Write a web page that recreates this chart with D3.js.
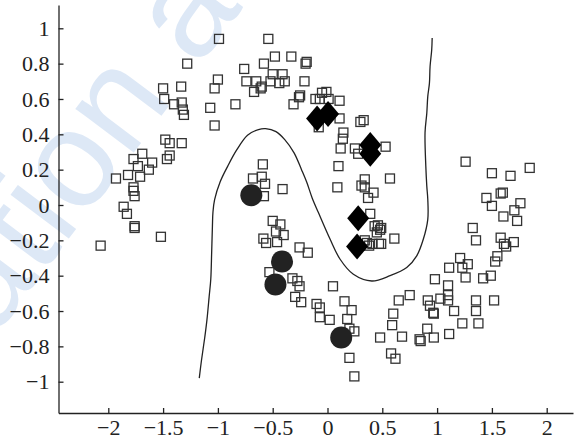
<!DOCTYPE html>
<html lang="en">
  <head>
    <meta charset="UTF-8" />
    <title>Two moons - decision boundary</title>
    <script src="https://d3js.org/d3.v7.min.js"></script>
    <style>
      body { margin: 0; background: #fff; }
      svg { display: block; }
      .tick text { font-family: "Liberation Serif", "Times New Roman", serif; }
    </style>
  </head>
  <body>
    <svg width="579" height="441"></svg>

    <script>
      // unlabeled points (open squares)
      var unlabeled = [
        [-2.07,-0.23],[-1.93,0.15],[-1.86,-0.01],[-1.83,-0.05],[-1.82,0.17],[-1.77,0.10],[-1.77,0.08],[-1.76,0.05],
        [-1.76,-0.12],[-1.76,-0.13],[-1.77,0.26],[-1.73,0.22],[-1.71,0.16],[-1.69,0.29],[-1.63,0.20],[-1.60,0.24],
        [-1.52,-0.18],[-1.48,0.37],[-1.44,0.35],[-1.465,0.26],[-1.44,0.28],[-1.33,0.35],[-1.50,0.66],[-1.49,0.60],
        [-1.40,0.57],[-1.335,0.67],[-1.33,0.58],[-1.32,0.54],[-1.31,0.51],[-1.28,0.80],
        [-1.07,0.55],[-1.03,0.45],[-1.03,0.66],[-1.00,0.71],[-0.99,0.94],[-0.84,0.57],[-0.76,0.77],[-0.74,0.70],
        [-0.67,0.64],[-0.65,0.70],[-0.60,0.67],[-0.61,0.66],[-0.58,0.80],[-0.54,0.94],[-0.52,0.70],[-0.50,0.74],
        [-0.48,0.84],[-0.44,0.69],[-0.41,0.74],[-0.39,0.70],[-0.33,0.84],[-0.31,0.57],[-0.26,0.61],[-0.25,0.62],
        [-0.21,0.70],[-0.20,0.80],[-0.19,0.81],[-0.11,0.60],[-0.08,0.44],[-0.07,0.60],[-0.05,0.635],[-0.01,0.64],
        [0.01,0.60],[0.11,0.59],[0.11,0.49],[0.145,0.41],[0.14,0.375],[0.12,0.32],[0.10,0.22],[0.09,0.10],
        [0.30,0.47],[0.33,0.48],[0.25,0.32],[0.28,0.29],[0.53,0.33],[0.57,0.15],[0.34,0.145],[0.31,0.11],
        [0.34,0.10],[0.42,0.07],[0.37,0.04],[0.39,-0.05],[0.43,-0.12],[0.48,-0.14],[0.46,-0.115],[0.49,-0.13],
        [0.45,-0.155],[0.61,-0.19],[0.34,-0.20],[0.36,-0.215],[0.41,-0.22],[0.47,-0.22],[0.49,-0.22],[0.38,-0.23],
        [-0.59,0.23],[-0.68,0.15],[-0.60,0.16],[-0.57,0.12],[-0.58,0.05],[-0.41,0.09],[-0.50,-0.09],[-0.43,-0.11],
        [-0.47,-0.15],[-0.40,-0.17],[-0.585,-0.19],[-0.56,-0.215],[-0.46,-0.21],[-0.255,-0.24],[-0.18,-0.27],
        [-0.53,-0.38],[-0.32,-0.415],[-0.275,-0.43],[-0.255,-0.46],[-0.295,-0.52],[-0.24,-0.55],[-0.10,-0.56],
        [-0.07,-0.58],[-0.07,-0.635],[0.02,-0.65],[0.05,-0.46],[0.155,-0.545],[0.22,-0.595],[0.18,-0.645],
        [0.20,-0.70],[0.245,-0.715],[0.20,-0.865],[0.245,-0.97],[0.48,-0.75],[0.58,-0.84],[0.62,-0.87],
        [0.60,-0.615],[0.65,-0.54],[0.59,-0.68],[0.68,-0.745],[0.75,-0.51],[0.84,-0.76],[0.85,-0.77],[0.91,-0.70],
        [0.915,-0.54],[0.935,-0.57],[0.965,-0.61],[0.97,-0.615],[0.97,-0.75],[0.98,-0.42],[1.03,-0.53],[1.11,-0.355],
        [1.10,-0.455],[1.10,-0.51],[1.10,-0.54],[1.11,-0.73],[1.155,-0.60],[1.21,-0.30],[1.23,-0.67],[1.23,-0.355],
        [1.26,-0.41],[1.28,-0.335],[1.26,0.245],[1.325,-0.13],[1.355,-0.20],[1.355,-0.54],[1.355,-0.60],[1.377,-0.67],
        [1.42,-0.415],[1.45,0.04],[1.50,0.18],[1.50,-0.005],[1.49,-0.40],[1.53,-0.32],[1.55,-0.29],[1.52,-0.54],
        [1.58,0.065],[1.60,0.07],[1.605,-0.065],[1.58,-0.185],[1.61,-0.22],[1.63,-0.235],[1.67,0.165],[1.70,-0.21],
        [1.705,-0.03],[1.73,-0.09],[1.76,0.01],[1.845,0.21]
      ];

      // labeled class 1 (filled diamonds)
      var classOne = [[-0.095,0.49],[0.005,0.515],[0.39,0.34],[0.39,0.29],[0.28,-0.075],[0.27,-0.235]];

      // labeled class 2 (filled circles)
      var classTwo = [[-0.695,0.055],[-0.415,-0.32],[-0.475,-0.45],[0.125,-0.75]];

      // decision boundary
      var boundary = [
        [-1.17,-0.98],[-1.15,-0.88],[-1.12,-0.75],[-1.10,-0.65],[-1.08,-0.52],[-1.065,-0.42],[-1.057,-0.27],
        [-1.05,-0.12],[-1.045,-0.04],[-1.03,0.03],[-0.98,0.13],[-0.91,0.22],[-0.83,0.31],[-0.73,0.395],
        [-0.63,0.427],[-0.565,0.432],[-0.47,0.415],[-0.39,0.37],[-0.305,0.295],[-0.237,0.20],[-0.19,0.13],
        [-0.14,0.04],[-0.083,-0.043],[0.024,-0.194],[0.115,-0.307],[0.236,-0.392],[0.404,-0.43],[0.571,-0.40],
        [0.723,-0.354],[0.814,-0.288],[0.874,-0.194],[0.915,-0.081],[0.915,0.032],[0.906,0.107],[0.897,0.22],
        [0.89,0.41],[0.906,0.52],[0.915,0.615],[0.93,0.69],[0.936,0.785],[0.951,0.88],[0.955,0.945]
      ];

      var xTicks = [-2, -1.5, -1, -0.5, 0, 0.5, 1, 1.5, 2];
      var xTickLabels = ["\u22122", "\u22121.5", "\u22121", "\u22120.5", "0", "0.5", "1", "1.5", "2"];
      var yTicks = [1, 0.8, 0.6, 0.4, 0.2, 0, -0.2, -0.4, -0.6, -0.8, -1];
      var yTickLabels = ["1", "0.8", "0.6", "0.4", "0.2", "0", "\u22120.2", "\u22120.4", "\u22120.6", "\u22120.8", "\u22121"];

      var svg = d3.select("svg");
      var ink = "#222";

      // watermark
      svg.append("text")
        .attr("transform", "translate(-6,338) rotate(-53)")
        .attr("font-family", "'Liberation Sans', Arial, sans-serif")
        .attr("font-size", 138)
        .attr("fill", "#dde8f6")
        .text("ation a");

      // axis frame in pixels
      var plotLeft = 58.5, plotRight = 573, plotTop = 5, plotBottom = 413;

      // scales fitted to the tick positions
      var x = d3.scaleLinear().domain([-2, 2]).range([108.3, 546.7]);
      var y = d3.scaleLinear().domain([-1, 1]).range([381.7, 28.3]);
      x.domain([x.invert(plotLeft), x.invert(plotRight)]).range([plotLeft, plotRight]);
      y.domain([y.invert(plotBottom), y.invert(plotTop)]).range([plotBottom, plotTop]);

      var xAxis = d3.axisBottom(x)
        .tickValues(xTicks)
        .tickSizeInner(-5)
        .tickSizeOuter(0)
        .tickPadding(0)
        .tickFormat(function (d, i) { return xTickLabels[i]; });

      var yAxis = d3.axisLeft(y)
        .tickValues(yTicks)
        .tickSizeInner(-5)
        .tickSizeOuter(0)
        .tickFormat(function (d, i) { return yTickLabels[i]; });

      var gx = svg.append("g").attr("transform", "translate(0," + plotBottom + ")").call(xAxis);
      var gy = svg.append("g").attr("transform", "translate(" + plotLeft + ",0)").call(yAxis);

      [gx, gy].forEach(function (g) {
        g.attr("font-family", "'Liberation Serif', 'Times New Roman', serif").attr("font-size", 22);
        g.selectAll("path, line").attr("stroke", ink).attr("stroke-width", 1.3);
        g.selectAll("text").attr("fill", ink);
      });
      gx.selectAll("text").attr("y", 22).attr("dy", null);
      gy.selectAll("text").attr("x", -9).attr("dy", "0.33em");

      // boundary curve
      var line = d3.line()
        .x(function (d) { return x(d[0]); })
        .y(function (d) { return y(d[1]); })
        .curve(d3.curveCatmullRom.alpha(0.5));

      svg.append("path")
        .datum(boundary)
        .attr("d", line)
        .attr("fill", "none")
        .attr("stroke", ink)
        .attr("stroke-width", 1.3);

      // unlabeled squares
      var s = 9;
      svg.append("g")
        .selectAll("rect")
        .data(unlabeled)
        .enter()
        .append("rect")
        .attr("x", function (d) { return x(d[0]) - s / 2; })
        .attr("y", function (d) { return y(d[1]) - s / 2; })
        .attr("width", s)
        .attr("height", s)
        .attr("fill", "none")
        .attr("stroke", "#333")
        .attr("stroke-width", 1.3);

      // diamonds
      svg.append("g")
        .selectAll("path")
        .data(classOne)
        .enter()
        .append("path")
        .attr("d", "M0,-13L11,0L0,13L-11,0Z")
        .attr("transform", function (d) { return "translate(" + x(d[0]) + "," + y(d[1]) + ")"; })
        .attr("fill", "#000");

      // circles
      svg.append("g")
        .selectAll("circle")
        .data(classTwo)
        .enter()
        .append("circle")
        .attr("cx", function (d) { return x(d[0]); })
        .attr("cy", function (d) { return y(d[1]); })
        .attr("r", 11)
        .attr("fill", "#222");
    </script>
  </body>
</html>
